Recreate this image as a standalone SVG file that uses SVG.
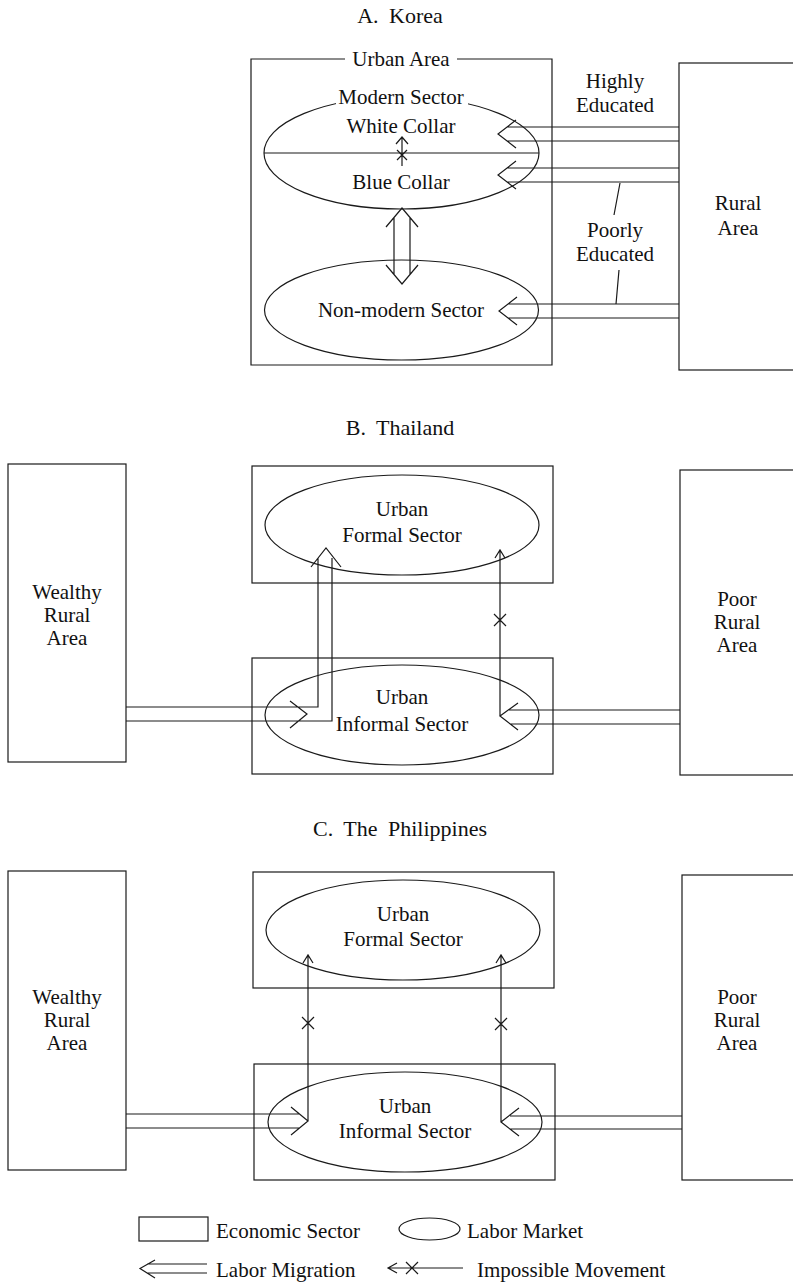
<svg xmlns="http://www.w3.org/2000/svg" width="793" height="1285" viewBox="0 0 793 1285">
<style>
text{font-family:"Liberation Serif","Times New Roman",serif;font-size:21px;fill:#111;text-anchor:middle}
.title{font-size:22px;word-spacing:5px}
.lg{text-anchor:start}
.box,.ell{fill:none;stroke:#1a1a1a;stroke-width:1.2}
.ln{fill:none;stroke:#1a1a1a;stroke-width:1.2}
</style>
<rect width="793" height="1285" fill="#fff"/>

<!-- Titles -->
<text class="title" x="400" y="23">A. Korea</text>
<text class="title" x="400" y="435">B. Thailand</text>
<text class="title" x="400" y="836">C. The Philippines</text>

<!-- ===== A. Korea ===== -->
<g id="korea-urban-area">
<path class="box" d="M345,59 H251 V365 H552 V59 H457"/>
<text x="401" y="66">Urban Area</text>
</g>
<g id="korea-modern-sector">
<ellipse class="ell" cx="401.5" cy="153" rx="137.5" ry="56"/>
<line class="ln" x1="264" y1="153" x2="539" y2="153"/>
<rect x="336" y="86" width="132" height="21" fill="#fff"/>
<text x="401" y="104">Modern Sector</text>
<text x="401" y="133">White Collar</text>
<text x="401" y="189">Blue Collar</text>
</g>
<g id="korea-nonmodern-sector">
<ellipse class="ell" cx="401.5" cy="310" rx="137" ry="50"/>
<text x="401" y="317">Non-modern Sector</text>
</g>
<g id="korea-rural-area">
<rect class="box" x="679" y="63" width="130" height="307"/>
<text x="738" y="210">Rural</text>
<text x="738" y="235">Area</text>
</g>
<g id="korea-labels">
<text x="615" y="88">Highly</text>
<text x="615" y="112">Educated</text>
<text x="615" y="237">Poorly</text>
<text x="615" y="261">Educated</text>
</g>

<!-- ===== B. Thailand ===== -->
<g id="thai-wealthy-rural">
<rect class="box" x="8" y="464" width="118" height="298"/>
<text x="67" y="599">Wealthy</text>
<text x="67" y="622">Rural</text>
<text x="67" y="645">Area</text>
</g>
<g id="thai-formal-box"><rect class="box" x="252" y="466" width="301" height="117"/></g>
<g id="thai-formal-sector">
<ellipse class="ell" cx="402" cy="525" rx="137" ry="50"/>
<text x="402" y="516">Urban</text>
<text x="402" y="542">Formal Sector</text>
</g>
<g id="thai-informal-box"><rect class="box" x="252" y="658" width="301" height="116"/></g>
<g id="thai-informal-sector">
<ellipse class="ell" cx="402" cy="715" rx="137" ry="50"/>
<text x="402" y="704">Urban</text>
<text x="402" y="731">Informal Sector</text>
</g>
<g id="thai-poor-rural">
<rect class="box" x="680" y="470" width="130" height="305"/>
<text x="737" y="606">Poor</text>
<text x="737" y="629">Rural</text>
<text x="737" y="652">Area</text>
</g>

<!-- ===== C. The Philippines ===== -->
<g id="phil-wealthy-rural">
<rect class="box" x="8" y="871" width="118" height="299"/>
<text x="67" y="1004">Wealthy</text>
<text x="67" y="1027">Rural</text>
<text x="67" y="1050">Area</text>
</g>
<g id="phil-formal-box"><rect class="box" x="253" y="872" width="301" height="116"/></g>
<g id="phil-formal-sector">
<ellipse class="ell" cx="403" cy="930" rx="137" ry="50"/>
<text x="403" y="921">Urban</text>
<text x="403" y="946">Formal Sector</text>
</g>
<g id="phil-informal-box"><rect class="box" x="254" y="1064" width="301" height="116"/></g>
<g id="phil-informal-sector">
<ellipse class="ell" cx="405" cy="1122" rx="137" ry="50"/>
<text x="405" y="1113">Urban</text>
<text x="405" y="1138">Informal Sector</text>
</g>
<g id="phil-poor-rural">
<rect class="box" x="682" y="875" width="130" height="305"/>
<text x="737" y="1004">Poor</text>
<text x="737" y="1027">Rural</text>
<text x="737" y="1050">Area</text>
</g>

<!-- ===== Connectors ===== -->
<g id="connectors" class="ln">
<!-- Korea: rural -> white collar -->
<path d="M516,120 L498,134 L516,148 M507,127 H679 M507,141 H679"/>
<!-- Korea: rural -> blue collar -->
<path d="M516,161 L498,175 L516,189 M507,168 H679 M507,182 H679"/>
<!-- Korea: rural -> non-modern -->
<path d="M517,297 L499,311 L517,325 M508,304 H679 M508,318 H679"/>
<!-- leader lines -->
<path d="M620,183 L614,215 M619,270 L616,304"/>
<!-- Korea: impossible white/blue collar -->
<path d="M402,137 V166 M396,144 L402,137 L408,144 M397,150 L407,160 M407,150 L397,160"/>
<!-- Korea: blue collar <-> non-modern -->
<path d="M386,227 L402,208 L418,227 M386,265 L402,284 L418,265 M394,217.5 V274.5 M410,217.5 V274.5"/>

<!-- Thailand left -->
<path d="M126,707 H318 V558 M126,721 H332 V558 M311,567 L326,548 L341,567 M290,701 L307,714 L290,728"/>
<!-- Thailand right -->
<path d="M518,703 L500,716 L518,730 M509,710 H680 M510,724 H680 M500,716 V550 M495,558 L500,550 L505,558 M494,614 L506,626 M506,614 L494,626"/>

<!-- Philippines left -->
<path d="M126,1114 H299 M126,1128 H299 M291,1107 L308,1121 L291,1135 M308,1121 V955 M303,963 L308,955 L313,963 M302,1017 L314,1029 M314,1017 L302,1029"/>
<!-- Philippines right -->
<path d="M519,1108 L501,1122 L519,1136 M510,1116 H682 M510,1129 H682 M501,1122 V955 M496,963 L501,955 L506,963 M495,1018 L507,1030 M507,1018 L495,1030"/>
</g>

<!-- ===== Legend ===== -->
<g id="legend">
<rect class="box" x="139" y="1217" width="69" height="24"/>
<text class="lg" x="216" y="1238">Economic Sector</text>
<ellipse class="ell" cx="429.5" cy="1229" rx="30.5" ry="11"/>
<text class="lg" x="467" y="1238">Labor Market</text>
<path class="ln" d="M155,1260 L140,1268.5 L155,1278 M147,1264 H207 M147,1273 H207"/>
<text class="lg" x="216" y="1277">Labor Migration</text>
<path class="ln" d="M397,1263 L388,1268 L397,1273 M388,1268 H463 M406,1262 L418,1274 M418,1262 L406,1274"/>
<text class="lg" x="477" y="1277">Impossible Movement</text>
</g>
</svg>
